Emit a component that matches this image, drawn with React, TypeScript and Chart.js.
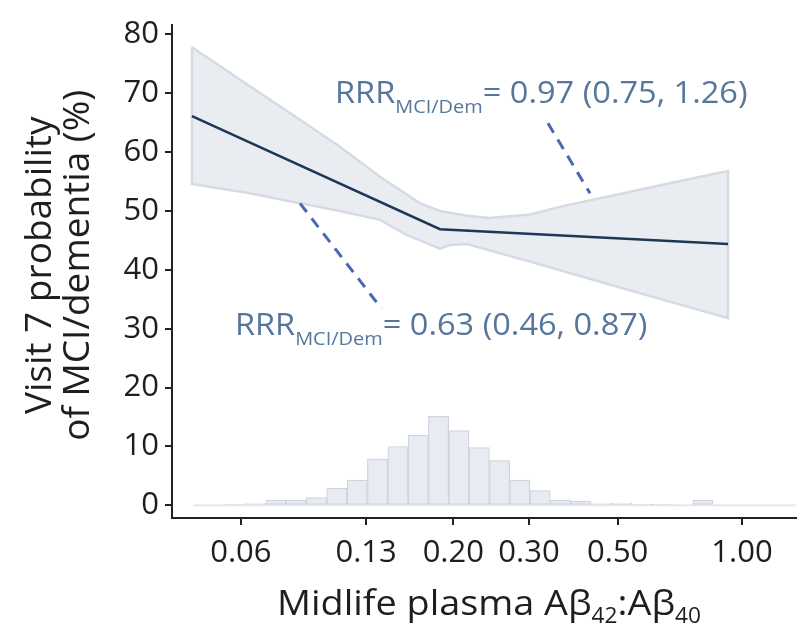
import React, { useEffect, useRef } from "react";
import { Chart, registerables } from "chart.js";

Chart.register(...registerables);

// ---------- data ----------
const xTickValues = [0.0612, 0.123, 0.2, 0.305, 0.5, 1.0];
const xTickLabels = ["0.06", "0.13", "0.20", "0.30", "0.50", "1.00"];
const yTickValues = [0, 10, 20, 30, 40, 50, 60, 70, 80];

const fitX = [0.0466, 0.1857, 0.925];
const fitY = [66.1, 46.9, 44.4];

const bandX = [0.04659, 0.06437, 0.08507, 0.1063, 0.1329, 0.1545, 0.1661, 0.1857, 0.1963, 0.2158, 0.2454, 0.3066, 0.377, 0.5066, 0.7079, 0.925];
const bandUpper = [77.8, 71.2, 65.5, 60.9, 55.8, 52.8, 51.3, 50.0, 49.7, 49.2, 48.8, 49.4, 51.0, 52.9, 55.1, 56.8];
const bandLower = [54.6, 53.0, 51.3, 50.0, 48.5, 45.9, 45.0, 43.6, 44.2, 44.4, 43.3, 41.4, 39.6, 37.0, 34.1, 31.8];

const histBins = [0.0593, 0.0664, 0.0744, 0.0833, 0.0933, 0.1045, 0.1171, 0.1311, 0.1469, 0.1645, 0.1842, 0.2063, 0.2311, 0.2588, 0.2899, 0.3247, 0.3637, 0.4073, 0.4562, 0.5109, 0.5722, 0.6409, 0.7178, 0.804];
const histPct = [0.1, 0.3, 0.9, 0.9, 1.3, 2.9, 4.3, 7.9, 10.0, 11.9, 15.1, 12.7, 9.8, 7.6, 4.3, 2.5, 0.9, 0.7, 0.3, 0.4, 0.1, 0.1, 0, 0.9];
const histBaseX = [0.047, 1.35];
const histBaseY = [0, 0];

const annoMain = ["RRR", "RRR"];
const annoSub = ["MCI/Dem", "MCI/Dem"];
const annoRest = ["= 0.97 (0.75, 1.26)", "= 0.63 (0.46, 0.87)"];
const annoX = [0.1034, 0.0592];
const annoY = [68.4, 29.0];
const dashFrom = [[0.339, 64.9], [0.0851, 51.3]];
const dashTo = [[0.4285, 53.0], [0.1341, 33.4]];

const yTitleLines = ["Visit 7 probability", "of MCI/dementia (%)"];
const xTitleParts = [
  { text: "Midlife plasma A\u03b2", sub: false },
  { text: "42", sub: true },
  { text: ":A\u03b2", sub: false },
  { text: "40", sub: true },
];

const FONT = '"Open Sans", "Noto Sans", sans-serif';
const TEXT_DARK = "#1e1e1e";
const ANNO_COLOR = "#56779b";

type Part = { text: string; size: number; dy: number };

function drawParts(
  ctx: CanvasRenderingContext2D,
  parts: Part[],
  x: number,
  y: number,
  align: "left" | "center",
  color: string,
  stretch: number
) {
  ctx.save();
  ctx.fillStyle = color;
  ctx.textBaseline = "alphabetic";
  ctx.textAlign = "left";
  const widths = parts.map((p) => {
    ctx.font = `${p.size}px ${FONT}`;
    return ctx.measureText(p.text).width;
  });
  const total = widths.reduce((a, b) => a + b, 0) * stretch;
  const x0 = align === "center" ? x - total / 2 : x;
  ctx.translate(x0, y);
  ctx.scale(stretch, 1);
  let cx = 0;
  parts.forEach((p, i) => {
    ctx.font = `${p.size}px ${FONT}`;
    ctx.fillText(p.text, cx, p.dy);
    cx += widths[i];
  });
  ctx.restore();
}

const textPlugin = {
  id: "customText",
  afterDatasetsDraw(chart: any) {
    const { ctx, scales } = chart;
    const xs = scales.x;
    const ys = scales.y;
    // dashed connector lines
    ctx.save();
    ctx.strokeStyle = "#4a67b3";
    ctx.lineWidth = 3;
    ctx.setLineDash([11, 8]);
    for (let i = 0; i < dashFrom.length; i++) {
      ctx.beginPath();
      ctx.moveTo(xs.getPixelForValue(dashFrom[i][0]), ys.getPixelForValue(dashFrom[i][1]));
      ctx.lineTo(xs.getPixelForValue(dashTo[i][0]), ys.getPixelForValue(dashTo[i][1]));
      ctx.stroke();
    }
    ctx.restore();
    // annotation labels
    for (let i = 0; i < annoMain.length; i++) {
      drawParts(
        ctx,
        [
          { text: annoMain[i], size: 31, dy: 0 },
          { text: annoSub[i], size: 19, dy: 10 },
          { text: annoRest[i], size: 31, dy: 0 },
        ],
        xs.getPixelForValue(annoX[i]),
        ys.getPixelForValue(annoY[i]),
        "left",
        ANNO_COLOR,
        1.05
      );
    }
  },
  afterDraw(chart: any) {
    const { ctx, chartArea } = chart;
    // x title
    const cx = (chartArea.left + chartArea.right) / 2 + 5;
    drawParts(
      ctx,
      xTitleParts.map((p) => (p.sub ? { text: p.text, size: 21, dy: 8 } : { text: p.text, size: 35, dy: 0 })),
      cx,
      chartArea.bottom + 97,
      "center",
      TEXT_DARK,
      1.08
    );
    // y title (rotated)
    const cy = (chartArea.top + chartArea.bottom) / 2 - 6;
    const baselines = [chartArea.left - 121, chartArea.left - 83];
    ctx.save();
    ctx.fillStyle = TEXT_DARK;
    ctx.font = `37px ${FONT}`;
    ctx.textAlign = "center";
    ctx.textBaseline = "alphabetic";
    yTitleLines.forEach((line, i) => {
      ctx.save();
      ctx.translate(baselines[i], cy);
      ctx.rotate(-Math.PI / 2);
      ctx.fillText(line, 0, 0);
      ctx.restore();
    });
    ctx.restore();
  },
};

export default function App() {
  const canvasRef = useRef<HTMLCanvasElement | null>(null);

  useEffect(() => {
    let chart: Chart | null = null;
    let cancelled = false;
    const build = () => {
      if (cancelled || !canvasRef.current) return;
      const upperPts = bandX.map((x, i) => ({ x, y: bandUpper[i] }));
      const lowerPts = bandX.map((x, i) => ({ x, y: bandLower[i] }));
      const outline = [...upperPts, ...lowerPts.slice().reverse(), upperPts[0]];
      chart = new Chart(canvasRef.current, {
        type: "line",
        data: {
          datasets: [
            {
              type: "line",
              label: "fit",
              data: fitX.map((x, i) => ({ x, y: fitY[i] })),
              borderColor: "#1d3857",
              borderWidth: 2.5,
              pointRadius: 0,
              fill: false,
              order: 0,
            } as any,
            {
              type: "line",
              label: "outline",
              data: outline,
              borderColor: "#d5dbe3",
              borderWidth: 2.5,
              pointRadius: 0,
              fill: false,
              order: 1,
            } as any,
            {
              type: "line",
              label: "upper",
              data: upperPts,
              borderWidth: 0,
              borderColor: "rgba(0,0,0,0)",
              backgroundColor: "#e9edf2",
              pointRadius: 0,
              fill: "+1",
              order: 2,
            } as any,
            {
              type: "line",
              label: "lower",
              data: lowerPts,
              borderWidth: 0,
              borderColor: "rgba(0,0,0,0)",
              pointRadius: 0,
              fill: false,
              order: 2,
            } as any,
            {
              type: "bar",
              label: "hist",
              data: histBins.map((x, i) => ({ x, y: histPct[i] })),
              backgroundColor: "#e8ecf2",
              borderColor: "#cdd4de",
              borderWidth: 1.2,
              borderSkipped: false,
              barPercentage: 1,
              categoryPercentage: 1,
              order: 3,
            } as any,
            {
              type: "line",
              label: "histBase",
              data: histBaseX.map((x, i) => ({ x, y: histBaseY[i] })),
              borderColor: "#e4e8ee",
              borderWidth: 2,
              pointRadius: 0,
              fill: false,
              order: 4,
            } as any,
          ],
        },
        options: {
          animation: false,
          responsive: false,
          events: [],
          layout: { padding: { top: 12, right: 2, left: 0, bottom: 0 } },
          plugins: { legend: { display: false }, tooltip: { enabled: false }, title: { display: false } },
          scales: {
            x: {
              type: "logarithmic",
              offset: false,
              min: 0.04169,
              max: 1.351,
              afterBuildTicks: (s: any) => {
                s.ticks = xTickValues.map((v) => ({ value: v }));
              },
              afterFit: (s: any) => {
                s.height = 113;
              },
              ticks: {
                autoSkip: false,
                maxRotation: 0,
                minRotation: 0,
                padding: 10,
                color: TEXT_DARK,
                font: { family: FONT, size: 31 },
                callback: (_v: any, i: number) => xTickLabels[i],
              },
              grid: {
                display: true,
                offset: false,
                drawOnChartArea: false,
                drawTicks: true,
                tickLength: 7,
                color: "#222",
                lineWidth: 2,
              },
              border: { display: true, color: "#222", width: 2 },
            } as any,
            y: {
              type: "linear",
              min: -2.153,
              max: 81.66,
              afterBuildTicks: (s: any) => {
                s.ticks = yTickValues.map((v) => ({ value: v }));
              },
              afterFit: (s: any) => {
                s.width = 172;
              },
              ticks: {
                padding: 6,
                color: TEXT_DARK,
                font: { family: FONT, size: 31 },
                callback: (v: any) => String(v),
              },
              grid: { display: true, drawOnChartArea: false, drawTicks: true, tickLength: 7, color: "#222", lineWidth: 2 },
              border: { display: true, color: "#222", width: 2 },
            } as any,
          },
        },
        plugins: [textPlugin],
      } as any);
    };
    const fontsApi: any = (document as any).fonts;
    if (fontsApi && fontsApi.load) {
      Promise.all([fontsApi.load(`31px "Open Sans"`), fontsApi.load(`19px "Open Sans"`)])
        .catch(() => null)
        .then(build);
    } else {
      build();
    }
    return () => {
      cancelled = true;
      if (chart) chart.destroy();
    };
  }, []);

  return (
    <div style={{ position: "fixed", left: 0, top: 0, width: 798, height: 631, background: "#fff" }}>
      <canvas ref={canvasRef} width={798} height={631} style={{ display: "block", width: 798, height: 631 }} />
    </div>
  );
}
